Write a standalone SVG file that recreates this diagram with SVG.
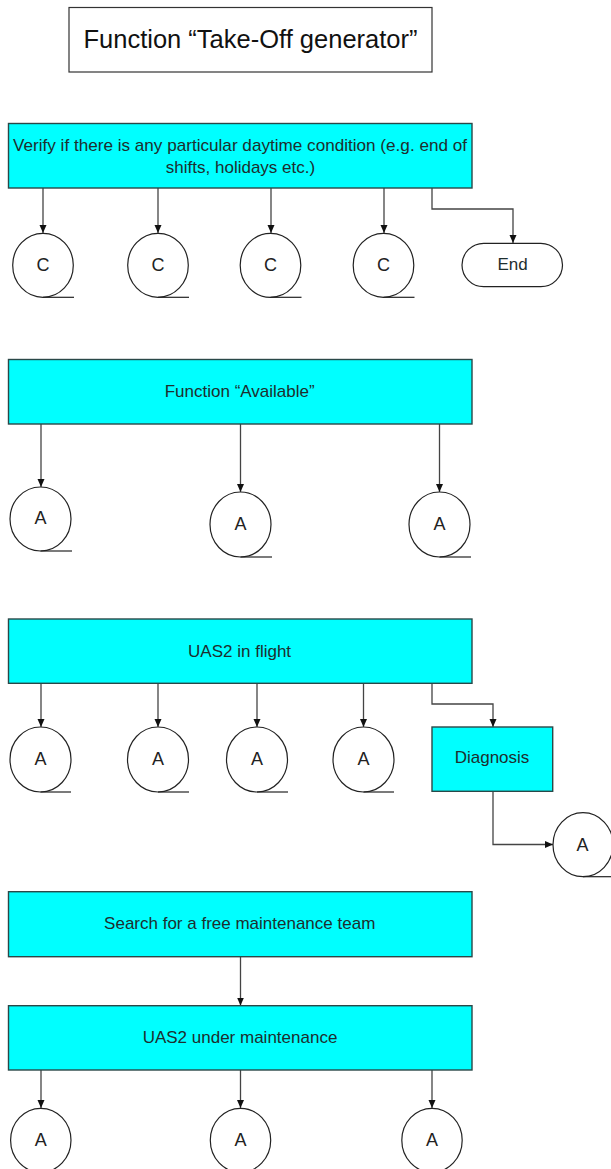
<svg xmlns="http://www.w3.org/2000/svg" width="611" height="1169" viewBox="0 0 611 1169">
<style>
.box{fill:#00ffff;stroke:#2a4848;stroke-width:1.4}
.title{fill:#fff;stroke:#333;stroke-width:1.2}
.conn{fill:#fff;stroke:#222;stroke-width:1.2}
.tail{stroke:#222;stroke-width:1.2;fill:none}
.t{font-family:"Liberation Sans",Arial,sans-serif;font-size:17px;fill:#1e2e2e;text-anchor:middle}
.c{font-family:"Liberation Sans",Arial,sans-serif;font-size:18px;fill:#222;text-anchor:middle}
.edge{fill:none;stroke:#444;stroke-width:1.3;marker-end:url(#ah)}
</style>
<defs>
<marker id="ah" markerUnits="userSpaceOnUse" markerWidth="8" markerHeight="8" refX="8" refY="3.5" orient="auto">
<path d="M0,0 L8,3.5 L0,7 z" fill="#111"/>
</marker>
</defs>
<rect width="611" height="1169" fill="#fff"/>

<g id="title">
<rect class="title" x="69" y="7.5" width="363" height="64.5"/>
<text x="250.5" y="48.3" font-family="'Liberation Sans',Arial,sans-serif" font-size="25.5" fill="#111" text-anchor="middle">Function “Take-Off generator”</text>
</g>

<g id="connectors">
<path class="edge" d="M43,188 V233"/>
<path class="edge" d="M158,188 V233"/>
<path class="edge" d="M271,188 V233"/>
<path class="edge" d="M384,188 V233"/>
<path class="edge" d="M432,188 V209 H513 V243"/>
<path class="edge" d="M41,424 V487"/>
<path class="edge" d="M240.5,424 V492"/>
<path class="edge" d="M439.5,424 V492"/>
<path class="edge" d="M41,683 V727"/>
<path class="edge" d="M158,683 V727"/>
<path class="edge" d="M257,683 V727"/>
<path class="edge" d="M363.5,683 V727"/>
<path class="edge" d="M432,683 V704 H493 V727"/>
<path class="edge" d="M493,791 V844.5 H553"/>
<path class="edge" d="M240.5,957 V1005.5"/>
<path class="edge" d="M41,1070 V1108"/>
<path class="edge" d="M240.5,1070 V1108"/>
<path class="edge" d="M432,1070 V1108"/>
</g>

<g id="verify">
<rect class="box" x="8.5" y="123.5" width="463.5" height="64.5"/>
<text class="t" x="240" y="151" textLength="454" lengthAdjust="spacingAndGlyphs">Verify if there is any particular daytime condition (e.g. end of</text>
<text class="t" x="240.5" y="173">shifts, holidays etc.)</text>
</g>
<g id="c1"><ellipse class="conn" cx="43" cy="265.3" rx="30.3" ry="32"/><path class="tail" d="M43,297.3 H74"/><text class="c" x="43" y="271">C</text></g>
<g id="c2"><ellipse class="conn" cx="158" cy="265.3" rx="30.3" ry="32"/><path class="tail" d="M158,297.3 H189"/><text class="c" x="158" y="271">C</text></g>
<g id="c3"><ellipse class="conn" cx="270.5" cy="265.3" rx="30.3" ry="32"/><path class="tail" d="M270.5,297.3 H301.5"/><text class="c" x="270.5" y="271">C</text></g>
<g id="c4"><ellipse class="conn" cx="383.5" cy="265.3" rx="30.3" ry="32"/><path class="tail" d="M383.5,297.3 H414.5"/><text class="c" x="383.5" y="271">C</text></g>
<g id="end"><rect class="conn" x="462" y="243.3" width="100.5" height="43.4" rx="21.7" ry="21.7"/><text class="t" x="512.5" y="270" fill="#222">End</text></g>

<g id="available">
<rect class="box" x="8.5" y="359.5" width="463.5" height="64.5"/>
<text class="t" x="239.7" y="396.7">Function “Available”</text>
</g>
<g id="a1"><ellipse class="conn" cx="40.5" cy="519" rx="30.5" ry="32"/><path class="tail" d="M40.5,551 H72"/><text class="c" x="40.5" y="524">A</text></g>
<g id="a2"><ellipse class="conn" cx="240.5" cy="524.5" rx="30.5" ry="32.5"/><path class="tail" d="M240.5,557 H272"/><text class="c" x="240.5" y="530">A</text></g>
<g id="a3"><ellipse class="conn" cx="439.5" cy="524.5" rx="30.5" ry="32.5"/><path class="tail" d="M439.5,557 H471"/><text class="c" x="439.5" y="530">A</text></g>

<g id="inflight">
<rect class="box" x="8.5" y="619" width="463.5" height="64.3"/>
<text class="t" x="239.6" y="657">UAS2 in flight</text>
</g>
<g id="a4"><ellipse class="conn" cx="40.5" cy="759.5" rx="30.5" ry="32.5"/><path class="tail" d="M40.5,792 H71"/><text class="c" x="40.5" y="765">A</text></g>
<g id="a5"><ellipse class="conn" cx="158" cy="759.5" rx="30.5" ry="32.5"/><path class="tail" d="M158,792 H189"/><text class="c" x="158" y="765">A</text></g>
<g id="a6"><ellipse class="conn" cx="257" cy="759.5" rx="30.5" ry="32.5"/><path class="tail" d="M257,792 H288"/><text class="c" x="257" y="765">A</text></g>
<g id="a7"><ellipse class="conn" cx="363.5" cy="759.5" rx="30.5" ry="32.5"/><path class="tail" d="M363.5,792 H394"/><text class="c" x="363.5" y="765">A</text></g>
<g id="diagnosis">
<rect class="box" x="432" y="727" width="120.7" height="64.3"/>
<text class="t" x="492" y="763.3">Diagnosis</text>
</g>
<g id="a8"><ellipse class="conn" cx="583" cy="844.7" rx="30" ry="32"/><path class="tail" d="M583,876.7 H611"/><text class="c" x="582.5" y="850.5">A</text></g>

<g id="search">
<rect class="box" x="8.5" y="891.7" width="463.5" height="65"/>
<text class="t" x="239.7" y="929">Search for a free maintenance team</text>
</g>
<g id="undermaint">
<rect class="box" x="8.5" y="1005.7" width="463.5" height="64.3"/>
<text class="t" x="240" y="1042.7">UAS2 under maintenance</text>
</g>
<g id="a9"><ellipse class="conn" cx="40.8" cy="1140.3" rx="30.2" ry="32"/><text class="c" x="40.8" y="1146">A</text></g>
<g id="a10"><ellipse class="conn" cx="240.5" cy="1140.3" rx="30.2" ry="32"/><text class="c" x="240.5" y="1146">A</text></g>
<g id="a11"><ellipse class="conn" cx="432" cy="1140.3" rx="30.2" ry="32"/><text class="c" x="432" y="1146">A</text></g>
</svg>
